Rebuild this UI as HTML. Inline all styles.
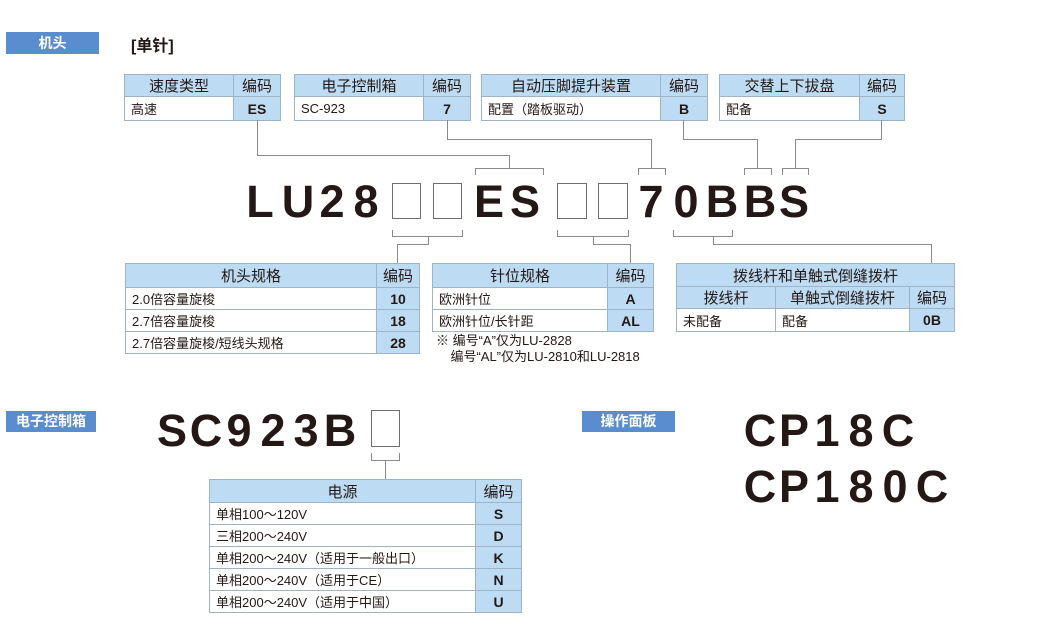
<!DOCTYPE html>
<html><head><meta charset="utf-8">
<style>
*{margin:0;padding:0;box-sizing:border-box}
body{width:1060px;height:633px;background:#fff;position:relative;overflow:hidden;font-family:"Liberation Sans","Noto Sans CJK SC",sans-serif;color:#231815}
.a{position:absolute}
.lbl{position:absolute;background:#5a8dcf;color:#fff;font-weight:bold;font-size:14px;text-align:center;line-height:22px;font-family:"Liberation Sans","Noto Sans CJK SC",sans-serif}
.g{position:absolute;width:40px;text-align:center;font-weight:bold;font-size:45px;line-height:46px;font-family:"Liberation Sans","Noto Sans CJK SC",sans-serif}
.box{position:absolute;border:1.5px solid #6e6e6e;background:#fff}
.h{position:absolute;background:#8a8a8a;height:1px}
.v{position:absolute;background:#8a8a8a;width:1px}
table{position:absolute;border-collapse:collapse;font-size:13px;font-family:"Liberation Sans","Noto Sans CJK SC",sans-serif}
td{border:1px solid #9fb3c4;padding:0 6px;white-space:nowrap}
td.hd{background:#bddcf3;text-align:center;font-size:15px}
td.c{background:#bddcf3;text-align:center;font-weight:bold;font-size:14px}
</style></head><body>

<div class="lbl" style="left:6px;top:32px;width:93px;height:22px">机头</div>
<div class="a" style="left:131px;top:32px;font-size:16px;font-weight:bold">[单针]</div>

<table style="left:124px;top:74px;width:157px">
<tr style="height:22px"><td class="hd" style="width:109px">速度类型</td><td class="hd">编码</td></tr>
<tr style="height:24px"><td>高速</td><td class="c">ES</td></tr></table>
<table style="left:294px;top:74px;width:177px">
<tr style="height:22px"><td class="hd" style="width:129px">电子控制箱</td><td class="hd">编码</td></tr>
<tr style="height:24px"><td>SC-923</td><td class="c">7</td></tr></table>
<table style="left:481px;top:74px;width:227px">
<tr style="height:22px"><td class="hd" style="width:179px">自动压脚提升装置</td><td class="hd">编码</td></tr>
<tr style="height:24px"><td>配置（踏板驱动）</td><td class="c">B</td></tr></table>
<table style="left:719px;top:74px;width:186px">
<tr style="height:22px"><td class="hd" style="width:140px">交替上下拔盘</td><td class="hd">编码</td></tr>
<tr style="height:24px"><td>配备</td><td class="c">S</td></tr></table>

<div class="v" style="left:257px;top:120px;height:35px"></div>
<div class="h" style="left:257px;top:155px;width:252px"></div>
<div class="v" style="left:509px;top:155px;height:13px"></div>
<div class="h" style="left:475px;top:168px;width:68px"></div>
<div class="v" style="left:475px;top:168px;height:7px"></div>
<div class="v" style="left:543px;top:168px;height:7px"></div>

<div class="v" style="left:447px;top:120px;height:19px"></div>
<div class="h" style="left:447px;top:139px;width:205px"></div>
<div class="v" style="left:651px;top:139px;height:29px"></div>
<div class="h" style="left:638px;top:168px;width:27px"></div>
<div class="v" style="left:638px;top:168px;height:7px"></div>
<div class="v" style="left:665px;top:168px;height:7px"></div>

<div class="v" style="left:683px;top:120px;height:19px"></div>
<div class="h" style="left:683px;top:139px;width:75px"></div>
<div class="v" style="left:757px;top:139px;height:29px"></div>
<div class="h" style="left:744px;top:168px;width:27px"></div>
<div class="v" style="left:744px;top:168px;height:7px"></div>
<div class="v" style="left:771px;top:168px;height:7px"></div>

<div class="v" style="left:881px;top:120px;height:19px"></div>
<div class="h" style="left:795px;top:139px;width:87px"></div>
<div class="v" style="left:795px;top:139px;height:29px"></div>
<div class="h" style="left:782px;top:168px;width:26px"></div>
<div class="v" style="left:782px;top:168px;height:7px"></div>
<div class="v" style="left:808px;top:168px;height:7px"></div>

<div class="g" style="left:240px;top:179px">L</div>
<div class="g" style="left:278px;top:179px">U</div>
<div class="g" style="left:312px;top:179px">2</div>
<div class="g" style="left:346px;top:179px">8</div>
<div class="box" style="left:392px;top:183px;width:29px;height:36px"></div>
<div class="box" style="left:433px;top:183px;width:29px;height:36px"></div>
<div class="g" style="left:469px;top:179px">E</div>
<div class="g" style="left:505px;top:179px">S</div>
<div class="box" style="left:557px;top:183px;width:30px;height:36px"></div>
<div class="box" style="left:598px;top:183px;width:30px;height:36px"></div>
<div class="g" style="left:631px;top:179px">7</div>
<div class="g" style="left:666px;top:179px">0</div>
<div class="g" style="left:702px;top:179px">B</div>
<div class="g" style="left:740px;top:179px">B</div>
<div class="g" style="left:774px;top:179px">S</div>

<div class="h" style="left:392px;top:236px;width:71px"></div>
<div class="v" style="left:392px;top:230px;height:6px"></div>
<div class="v" style="left:462px;top:230px;height:6px"></div>
<div class="v" style="left:428px;top:236px;height:8px"></div>
<div class="h" style="left:397px;top:244px;width:32px"></div>
<div class="v" style="left:397px;top:244px;height:19px"></div>

<div class="h" style="left:557px;top:236px;width:72px"></div>
<div class="v" style="left:557px;top:230px;height:6px"></div>
<div class="v" style="left:628px;top:230px;height:6px"></div>
<div class="v" style="left:593px;top:236px;height:8px"></div>
<div class="h" style="left:593px;top:244px;width:38px"></div>
<div class="v" style="left:630px;top:244px;height:19px"></div>

<div class="h" style="left:673px;top:236px;width:60px"></div>
<div class="v" style="left:673px;top:230px;height:6px"></div>
<div class="v" style="left:732px;top:230px;height:6px"></div>
<div class="v" style="left:713px;top:236px;height:8px"></div>
<div class="h" style="left:713px;top:244px;width:219px"></div>
<div class="v" style="left:931px;top:244px;height:19px"></div>

<table style="left:125px;top:263px;width:295px">
<tr style="height:24px"><td class="hd" style="width:255px">机头规格</td><td class="hd">编码</td></tr>
<tr style="height:22px"><td>2.0倍容量旋梭</td><td class="c">10</td></tr>
<tr style="height:22px"><td>2.7倍容量旋梭</td><td class="c">18</td></tr>
<tr style="height:22px"><td>2.7倍容量旋梭/短线头规格</td><td class="c">28</td></tr></table>

<table style="left:432px;top:263px;width:222px">
<tr style="height:24px"><td class="hd" style="width:175px">针位规格</td><td class="hd">编码</td></tr>
<tr style="height:22px"><td>欧洲针位</td><td class="c">A</td></tr>
<tr style="height:22px"><td>欧洲针位/长针距</td><td class="c">AL</td></tr></table>
<div class="a" style="left:436px;top:333px;font-size:13px;line-height:16px">※ 编号“A”仅为LU-2828<br>&nbsp;&nbsp;&nbsp;&nbsp;编号“AL”仅为LU-2810和LU-2818</div>

<table style="left:676px;top:263px;width:279px">
<tr style="height:23px"><td class="hd" colspan="3">拨线杆和单触式倒缝拨杆</td></tr>
<tr style="height:22px"><td class="hd" style="width:99px">拨线杆</td><td class="hd" style="width:134px">单触式倒缝拨杆</td><td class="hd">编码</td></tr>
<tr style="height:23px"><td>未配备</td><td>配备</td><td class="c">0B</td></tr></table>

<div class="lbl" style="left:6px;top:411px;width:90px;height:21px;line-height:21px">电子控制箱</div>
<div class="lbl" style="left:582px;top:411px;width:93px;height:21px;line-height:21px">操作面板</div>

<div class="g" style="left:152px;top:408px">S</div>
<div class="g" style="left:186px;top:408px">C</div>
<div class="g" style="left:219px;top:408px">9</div>
<div class="g" style="left:253px;top:408px">2</div>
<div class="g" style="left:286px;top:408px">3</div>
<div class="g" style="left:320px;top:408px">B</div>
<div class="box" style="left:371px;top:410px;width:29px;height:37px"></div>
<div class="h" style="left:371px;top:460px;width:29px"></div>
<div class="v" style="left:371px;top:453px;height:7px"></div>
<div class="v" style="left:399px;top:453px;height:7px"></div>
<div class="v" style="left:385px;top:460px;height:19px"></div>

<table style="left:209px;top:479px;width:313px">
<tr style="height:23px"><td class="hd" style="width:266px">电源</td><td class="hd">编码</td></tr>
<tr style="height:22px"><td>单相100～120V</td><td class="c">S</td></tr>
<tr style="height:22px"><td>三相200～240V</td><td class="c">D</td></tr>
<tr style="height:22px"><td>单相200～240V（适用于一般出口）</td><td class="c">K</td></tr>
<tr style="height:22px"><td>单相200～240V（适用于CE）</td><td class="c">N</td></tr>
<tr style="height:22px"><td>单相200～240V（适用于中国）</td><td class="c">U</td></tr></table>

<div class="g" style="left:740px;top:408px">C</div>
<div class="g" style="left:774px;top:408px">P</div>
<div class="g" style="left:807px;top:408px">1</div>
<div class="g" style="left:841px;top:408px">8</div>
<div class="g" style="left:878px;top:408px">C</div>

<div class="g" style="left:740px;top:464px">C</div>
<div class="g" style="left:774px;top:464px">P</div>
<div class="g" style="left:807px;top:464px">1</div>
<div class="g" style="left:841px;top:464px">8</div>
<div class="g" style="left:875px;top:464px">0</div>
<div class="g" style="left:912px;top:464px">C</div>
</body></html>
